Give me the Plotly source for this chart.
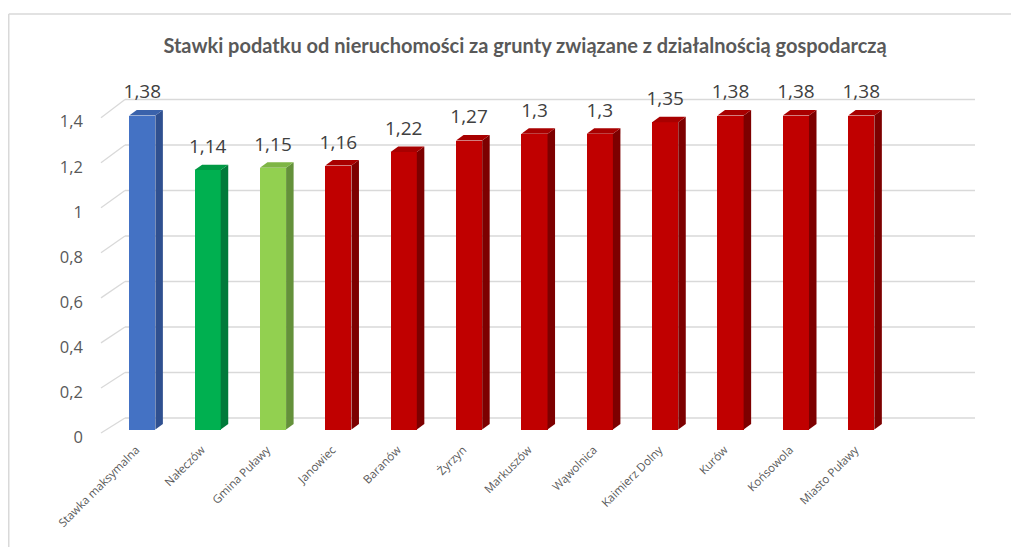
import plotly.graph_objects as go

# ---- data ----
categories = ["Stawka maksymalna", "Nałeczów", "Gmina Puławy", "Janowiec", "Baranów",
              "Żyrzyn", "Markuszów", "Wąwolnica", "Kaimierz Dolny", "Kurów",
              "Końsowola", "Miasto Puławy"]
values = [1.38, 1.14, 1.15, 1.16, 1.22, 1.27, 1.30, 1.30, 1.35, 1.38, 1.38, 1.38]
y_ticks = [0, 0.2, 0.4, 0.6, 0.8, 1.0, 1.2, 1.4]
title_text = "Stawki podatku od nieruchomości za grunty związane z działalnością gospodarczą"

# ---- styles ----
palette = {
    "blue": ("#4472C4", "#3A62AB", "#2F5090"),
    "green": ("#00B050", "#009944", "#007A3A"),
    "lgreen": ("#92D050", "#7EB545", "#64913A"),
    "red": ("#C00000", "#A80000", "#7D0000"),
}
bar_style = ["blue", "green", "lgreen"] + ["red"] * 9

BAR_W = 0.4       # front face width (category units)
DEPTH_X = 0.115   # 3D depth, x units
DEPTH_Y = 0.024   # 3D depth, y units
LABEL_PAD = 0.03
WALL_DY = 0.0505  # back wall offset in y units
WALL_X0 = -0.265
WALL_X1 = 12.75
FRONT_X0 = -0.632


def fmt(v):
    return f"{v:g}".replace(".", ",")


xs = list(range(len(categories)))
fig = go.Figure()

# front faces
fig.add_trace(go.Bar(
    x=xs, y=values, width=BAR_W,
    marker=dict(color=[palette[s][0] for s in bar_style], line=dict(width=0)),
    hoverinfo="skip", showlegend=False,
))

# side and top faces
for x, v, s in zip(xs, values, bar_style):
    front, top, side = palette[s]
    r = x + BAR_W / 2
    l = x - BAR_W / 2
    fig.add_trace(go.Scatter(
        x=[r, r + DEPTH_X, r + DEPTH_X, r, r],
        y=[0, DEPTH_Y, v + DEPTH_Y, v, 0],
        fill="toself", fillcolor=side, mode="lines", line=dict(width=0, color=side),
        hoverinfo="skip", showlegend=False,
    ))
    fig.add_trace(go.Scatter(
        x=[l, r, r + DEPTH_X, l + DEPTH_X, l],
        y=[v, v, v + DEPTH_Y, v + DEPTH_Y, v],
        fill="toself", fillcolor=top, mode="lines", line=dict(width=0, color=top),
        hoverinfo="skip", showlegend=False,
    ))

# data labels
fig.add_trace(go.Scatter(
    x=xs, y=[v + DEPTH_Y + LABEL_PAD for v in values], mode="text",
    text=[fmt(v) for v in values], textposition="top center",
    textfont=dict(family="Open Sans", size=19, color="#404040"),
    hoverinfo="skip", showlegend=False,
))

# invisible trace for label axis
fig.add_trace(go.Scatter(x=[0], y=[0], yaxis="y2", mode="markers",
                         marker=dict(opacity=0), hoverinfo="skip", showlegend=False))

# back-wall gridlines and diagonals
shapes = []
for t in y_ticks:
    yb = t + WALL_DY
    yf = -0.0154 + t * 0.98993
    shapes.append(dict(type="line", xref="x", yref="y", x0=WALL_X0, x1=WALL_X1,
                       y0=yb, y1=yb, line=dict(color="#D9D9D9", width=1.6), layer="below"))
    shapes.append(dict(type="line", xref="x", yref="y", x0=FRONT_X0, x1=WALL_X0,
                       y0=yf, y1=yb, line=dict(color="#D9D9D9", width=1.3), layer="below"))

# chart border (top and left)
shapes.append(dict(type="line", xref="paper", yref="paper", x0=-0.1043, x1=1.08,
                   y0=1.1833, y1=1.1833, line=dict(color="#D9D9D9", width=1.5)))
shapes.append(dict(type="line", xref="paper", yref="paper", x0=-0.1043, x1=-0.1043,
                   y0=1.1833, y1=-0.35, line=dict(color="#D9D9D9", width=1.5)))

fig.update_layout(
    width=1019, height=547,
    margin=dict(l=92, r=52, t=72, b=115),
    paper_bgcolor="white", plot_bgcolor="white",
    title=dict(text=title_text, x=0.5074, xanchor="center", y=0.9305, yanchor="middle",
               font=dict(family="Lato", size=20, color="#595959", weight="bold")),
    shapes=shapes,
    xaxis=dict(range=[-0.647, 12.74], tickmode="array", tickvals=xs, ticktext=categories,
               tickangle=-45, tickfont=dict(family="Open Sans", size=11.5, color="#595959"),
               showgrid=False, zeroline=False, showline=False, ticks="",
               ticklabelshift=-6),
    yaxis=dict(range=[-0.04615, 1.536], showticklabels=False, showgrid=False,
               zeroline=False, showline=False, ticks=""),
    yaxis2=dict(range=[-0.0133, 1.585], overlaying="y", side="left",
                tickmode="array", tickvals=y_ticks, ticktext=[fmt(t) for t in y_ticks],
                tickfont=dict(family="Open Sans", size=16.5, color="#595959"),
                showgrid=False, zeroline=False, showline=False, ticks="",
                ticklabelstandoff=16),
    bargap=0,
)

fig.write_html("out.html")
